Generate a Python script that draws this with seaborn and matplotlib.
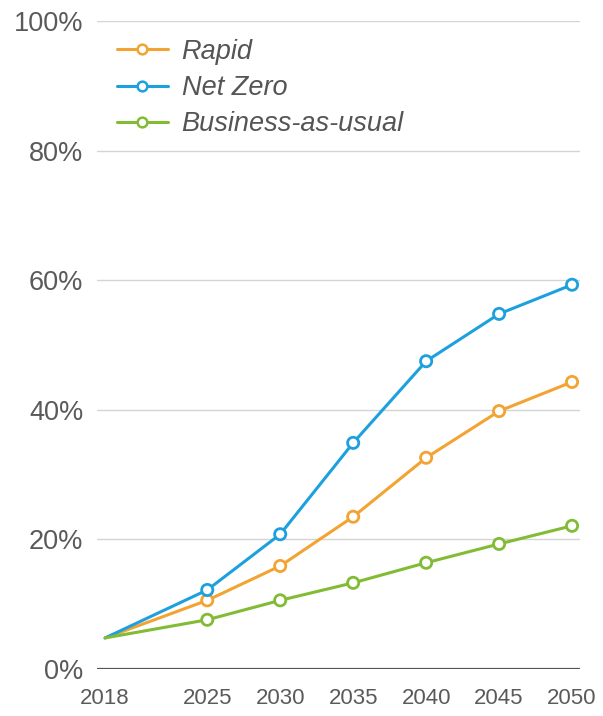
import matplotlib
matplotlib.use("Agg")
import matplotlib.pyplot as plt
from matplotlib.lines import Line2D
import seaborn as sns
import pandas as pd

years = [2018, 2025, 2030, 2035, 2040, 2045, 2050]
rapid = [4.8, 10.6, 15.9, 23.5, 32.6, 39.8, 44.3]
net_zero = [4.8, 12.2, 20.8, 34.9, 47.5, 54.8, 59.3]
business_as_usual = [4.8, 7.6, 10.6, 13.3, 16.4, 19.3, 22.1]
scenarios = ["Rapid", "Net Zero", "Business-as-usual"]
colors = ["#F3A332", "#1DA1DE", "#82BB34"]
y_ticks = [0, 20, 40, 60, 80, 100]

df = pd.DataFrame({
    "year": years * 3,
    "share": rapid + net_zero + business_as_usual,
    "scenario": [s for s in scenarios for _ in years],
})

sns.set_style("white")
plt.rcParams["font.family"] = ["Liberation Sans", "DejaVu Sans"]

fig = plt.figure(figsize=(6.03, 7.16), dpi=100)
ax = fig.add_axes([0.161, 0.0656, 0.801, 0.9051])

palette = dict(zip(scenarios, colors))
sns.lineplot(data=df, x="year", y="share", hue="scenario", palette=palette,
             linewidth=2.2, legend=False, ax=ax, zorder=3)
sns.scatterplot(data=df[df["year"] > 2018], x="year", y="share", hue="scenario",
                palette=palette, legend=False, ax=ax, s=65, facecolor="white",
                linewidth=2.0, zorder=4)
# open circle markers: edge in series colour, white fill
for coll in ax.collections:
    ec = coll.get_facecolors()
    coll.set_edgecolors(ec)
    coll.set_facecolors("white")

ax.set_xlim(2017.45, 2050.55)
ax.set_ylim(0, 100)
ax.set_yticks(y_ticks)
ax.set_yticklabels([f"{v}%" for v in y_ticks])
ax.set_xticks(years)
ax.set_xticklabels([str(y) for y in years])
for v in y_ticks[1:]:
    ax.axhline(v, color="#D4D4D4", linewidth=1.0, zorder=1)
ax.axhline(0, color="#555555", linewidth=1.6, zorder=2)
for s in ax.spines.values():
    s.set_visible(False)
ax.set_xlabel("")
ax.set_ylabel("")
ax.tick_params(axis="y", length=0, pad=10, labelsize=19.5, labelcolor="#5A5A5A")
ax.tick_params(axis="x", length=0, pad=14, labelsize=16, labelcolor="#5A5A5A")

handles = [Line2D([0], [0], color=c, linewidth=2.2, marker="o", markersize=7,
                  markerfacecolor="white", markeredgewidth=1.8, markeredgecolor=c)
           for c in colors]
leg = ax.legend(handles, scenarios, loc="upper left", bbox_to_anchor=(-0.01, 1.01),
                frameon=False, handlelength=1.9, handletextpad=0.5, labelspacing=0.38,
                prop={"style": "italic", "size": 19.5})
for t in leg.get_texts():
    t.set_color("#555555")

fig.savefig("out.png", dpi=100, facecolor="white")
